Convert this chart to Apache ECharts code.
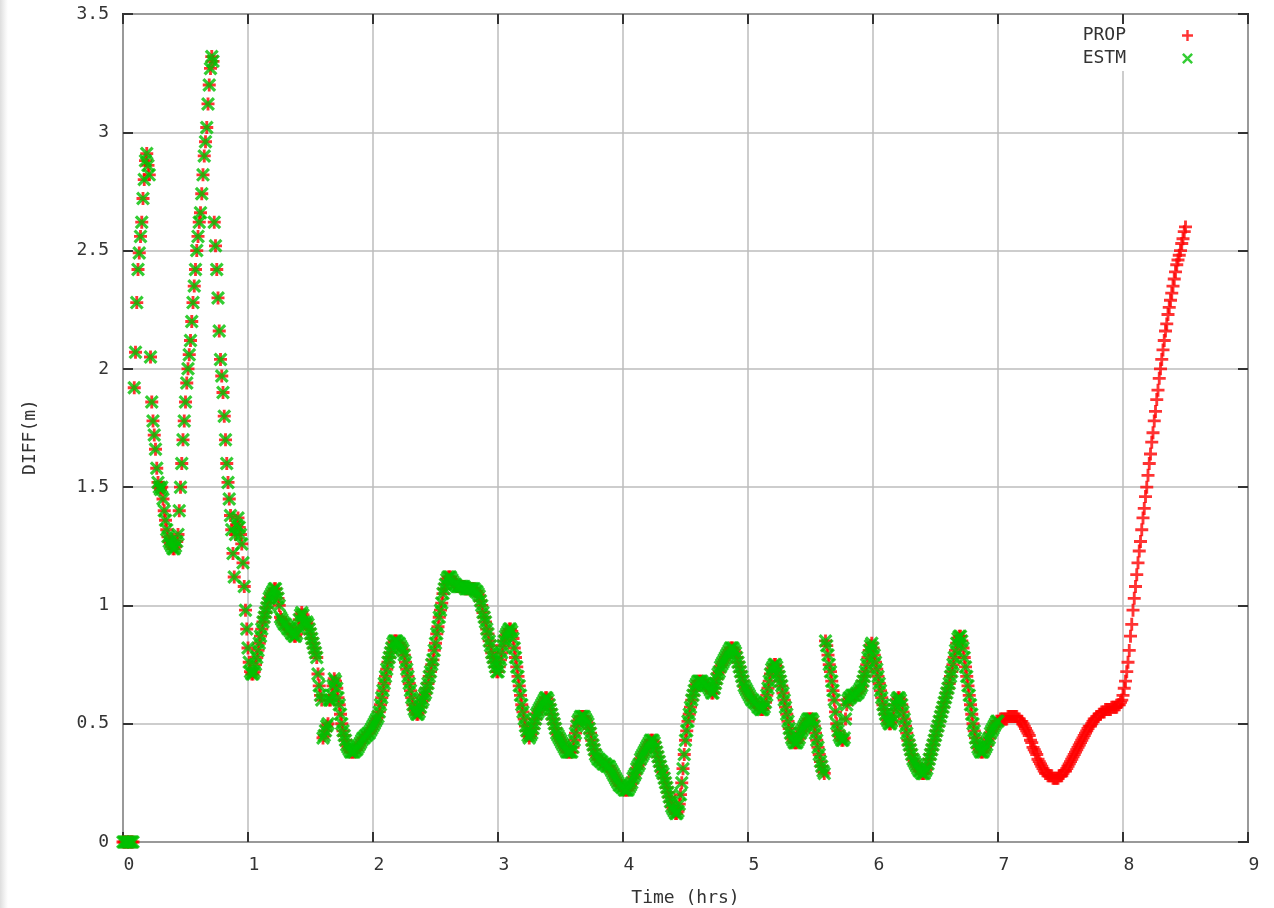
<!DOCTYPE html>
<html>
<head>
<meta charset="utf-8">
<title>DIFF vs Time</title>
<script src="https://cdn.jsdelivr.net/npm/echarts@6/dist/echarts.min.js"></script>
<style>
  html, body { margin: 0; padding: 0; }
  body { background: linear-gradient(to right, #dedede 0px, #f4f4f4 5px, #ffffff 8px); }
  #chart { width: 1274px; height: 908px; }
</style>
</head>
<body>
<div id="chart"></div>
<script>
const DT = 0.01;
const xTicks = [0, 1, 2, 3, 4, 5, 6, 7, 8, 9];
const yTicks = [0, 0.5, 1, 1.5, 2, 2.5, 3, 3.5];
const seriesNames = ['PROP', 'ESTM'];

// PROP, 0.00 h .. 3.49 h
const propA = [
  0, 0, 0, 0, 0, 0, 0, 0, 0, 1.92,
  2.07, 2.28, 2.42, 2.49, 2.56, 2.62, 2.72, 2.80, 2.88, 2.91,
  2.86, 2.82, 2.05, 1.86, 1.78, 1.72, 1.66, 1.58, 1.52, 1.50,
  1.49, 1.50, 1.45, 1.40, 1.36, 1.32, 1.29, 1.27, 1.26, 1.25,
  1.24, 1.24, 1.25, 1.27, 1.30, 1.40, 1.50, 1.60, 1.70, 1.78,
  1.86, 1.94, 2.00, 2.06, 2.12, 2.20, 2.28, 2.35, 2.42, 2.50,
  2.56, 2.62, 2.66, 2.74, 2.82, 2.90, 2.96, 3.02, 3.12, 3.20,
  3.27, 3.32, 3.30, 2.62, 2.52, 2.42, 2.30, 2.16, 2.04, 1.97,
  1.90, 1.80, 1.70, 1.60, 1.52, 1.45, 1.38, 1.32, 1.22, 1.12,
  1.30, 1.34, 1.37, 1.33, 1.30, 1.26, 1.18, 1.08, 0.98, 0.90,
  0.82, 0.76, 0.72, 0.71, 0.71, 0.72, 0.75, 0.78, 0.81, 0.84,
  0.87, 0.90, 0.93, 0.95, 0.97, 0.99, 1.01, 1.03, 1.04, 1.05,
  1.06, 1.07, 1.07, 1.05, 1.03, 1.00, 0.95, 0.94, 0.93, 0.92,
  0.92, 0.91, 0.90, 0.90, 0.89, 0.88, 0.88, 0.87, 0.87, 0.88,
  0.91, 0.94, 0.96, 0.97, 0.96, 0.93, 0.92, 0.93, 0.92, 0.90,
  0.88, 0.86, 0.84, 0.82, 0.80, 0.78, 0.71, 0.66, 0.62, 0.60,
  0.44, 0.45, 0.47, 0.49, 0.50, 0.60, 0.60, 0.62, 0.66, 0.69,
  0.68, 0.65, 0.61, 0.58, 0.54, 0.50, 0.47, 0.45, 0.43, 0.41,
  0.40, 0.39, 0.38, 0.38, 0.38, 0.38, 0.39, 0.39, 0.40, 0.41,
  0.42, 0.43, 0.44, 0.44, 0.45, 0.45, 0.46, 0.46, 0.47, 0.48,
  0.49, 0.50, 0.51, 0.52, 0.53, 0.55, 0.58, 0.61, 0.64, 0.67,
  0.70, 0.73, 0.76, 0.78, 0.80, 0.82, 0.84, 0.85, 0.85, 0.85,
  0.84, 0.84, 0.83, 0.82, 0.81, 0.79, 0.76, 0.73, 0.70, 0.67,
  0.64, 0.61, 0.58, 0.56, 0.55, 0.54, 0.54, 0.55, 0.57, 0.59,
  0.60, 0.62, 0.63, 0.65, 0.67, 0.70, 0.72, 0.75, 0.77, 0.81,
  0.84, 0.88, 0.91, 0.95, 0.98, 1.01, 1.05, 1.07, 1.09, 1.11,
  1.12, 1.12, 1.12, 1.11, 1.10, 1.09, 1.09, 1.08, 1.08, 1.08,
  1.08, 1.08, 1.08, 1.08, 1.07, 1.07, 1.07, 1.07, 1.07, 1.07,
  1.07, 1.07, 1.06, 1.06, 1.05, 1.04, 1.02, 1.00, 0.97, 0.95,
  0.93, 0.90, 0.88, 0.85, 0.83, 0.80, 0.78, 0.76, 0.74, 0.72,
  0.72, 0.74, 0.77, 0.80, 0.83, 0.85, 0.87, 0.88, 0.89, 0.90,
  0.90, 0.89, 0.86, 0.82, 0.78, 0.74, 0.70, 0.66, 0.62, 0.58,
  0.55, 0.52, 0.49, 0.47, 0.45, 0.44, 0.45, 0.46, 0.48, 0.50,
  0.52, 0.54, 0.55, 0.56, 0.57, 0.58, 0.59, 0.60, 0.61, 0.61,
  0.60, 0.58, 0.56, 0.54, 0.52, 0.50, 0.48, 0.46, 0.45, 0.44
];

// PROP, 3.50 h .. 7.00 h
const propB = [
  0.43, 0.42, 0.41, 0.40, 0.39, 0.38, 0.38, 0.38, 0.38, 0.38,
  0.40, 0.43, 0.46, 0.49, 0.51, 0.52, 0.53, 0.53, 0.53, 0.53,
  0.52, 0.51, 0.50, 0.48, 0.46, 0.43, 0.41, 0.39, 0.37, 0.36,
  0.35, 0.35, 0.34, 0.34, 0.33, 0.33, 0.33, 0.32, 0.32, 0.32,
  0.31, 0.30, 0.29, 0.28, 0.27, 0.26, 0.25, 0.24, 0.24, 0.23,
  0.23, 0.22, 0.22, 0.22, 0.22, 0.23, 0.24, 0.25, 0.27, 0.28,
  0.29, 0.31, 0.32, 0.33, 0.35, 0.36, 0.37, 0.38, 0.39, 0.40,
  0.41, 0.42, 0.43, 0.43, 0.43, 0.42, 0.40, 0.38, 0.36, 0.34,
  0.32, 0.30, 0.29, 0.27, 0.25, 0.23, 0.21, 0.19, 0.17, 0.15,
  0.14, 0.13, 0.12, 0.12, 0.13, 0.16, 0.20, 0.25, 0.31, 0.37,
  0.43, 0.47, 0.51, 0.54, 0.57, 0.60, 0.62, 0.64, 0.66, 0.67,
  0.68, 0.68, 0.68, 0.68, 0.67, 0.67, 0.67, 0.66, 0.66, 0.65,
  0.64, 0.63, 0.63, 0.65, 0.67, 0.69, 0.71, 0.72, 0.74, 0.75,
  0.76, 0.77, 0.78, 0.79, 0.80, 0.81, 0.82, 0.82, 0.82, 0.81,
  0.80, 0.78, 0.76, 0.74, 0.72, 0.70, 0.68, 0.66, 0.65, 0.64,
  0.63, 0.62, 0.61, 0.60, 0.60, 0.59, 0.59, 0.58, 0.57, 0.57,
  0.56, 0.56, 0.56, 0.57, 0.59, 0.62, 0.65, 0.68, 0.71, 0.73,
  0.74, 0.75, 0.75, 0.74, 0.72, 0.70, 0.68, 0.66, 0.63, 0.60,
  0.57, 0.54, 0.51, 0.48, 0.46, 0.44, 0.43, 0.42, 0.42, 0.42,
  0.43, 0.44, 0.46, 0.47, 0.48, 0.49, 0.50, 0.51, 0.52, 0.52,
  0.52, 0.52, 0.51, 0.49, 0.46, 0.43, 0.40, 0.37, 0.34, 0.32,
  0.30, 0.29, 0.85, 0.83, 0.79, 0.75, 0.72, 0.68, 0.64, 0.60,
  0.55, 0.50, 0.47, 0.45, 0.44, 0.43, 0.43, 0.44, 0.52, 0.58,
  0.60, 0.61, 0.61, 0.62, 0.62, 0.62, 0.62, 0.63, 0.63, 0.64,
  0.65, 0.66, 0.68, 0.70, 0.72, 0.75, 0.78, 0.81, 0.83, 0.84,
  0.82, 0.79, 0.76, 0.73, 0.70, 0.67, 0.64, 0.61, 0.58, 0.56,
  0.54, 0.52, 0.51, 0.50, 0.50, 0.51, 0.53, 0.56, 0.58, 0.60,
  0.61, 0.61, 0.60, 0.58, 0.55, 0.52, 0.49, 0.46, 0.43, 0.41,
  0.39, 0.37, 0.35, 0.34, 0.33, 0.32, 0.31, 0.30, 0.30, 0.29,
  0.29, 0.29, 0.30, 0.31, 0.33, 0.35, 0.37, 0.39, 0.41, 0.43,
  0.45, 0.47, 0.49, 0.51, 0.53, 0.55, 0.57, 0.59, 0.61, 0.63,
  0.65, 0.67, 0.70, 0.72, 0.75, 0.78, 0.81, 0.84, 0.86, 0.87,
  0.87, 0.85, 0.82, 0.78, 0.74, 0.70, 0.66, 0.62, 0.58, 0.54,
  0.50, 0.47, 0.44, 0.42, 0.40, 0.39, 0.38, 0.38, 0.38, 0.39,
  0.40, 0.41, 0.43, 0.44, 0.46, 0.47, 0.48, 0.49, 0.50, 0.51,
  0.51
];

// PROP only (propagated beyond the estimate), 7.01 h .. 8.50 h
const propC = [
        0.51, 0.52, 0.52, 0.52, 0.52, 0.52, 0.52, 0.53, 0.53,
  0.53, 0.53, 0.53, 0.53, 0.53, 0.53, 0.52, 0.52, 0.51, 0.51,
  0.50, 0.49, 0.48, 0.47, 0.46, 0.45, 0.43, 0.42, 0.40, 0.39,
  0.38, 0.37, 0.35, 0.34, 0.33, 0.32, 0.31, 0.30, 0.29, 0.29,
  0.28, 0.28, 0.28, 0.28, 0.27, 0.27, 0.27, 0.27, 0.27, 0.28,
  0.28, 0.28, 0.29, 0.30, 0.30, 0.31, 0.32, 0.33, 0.34, 0.35,
  0.36, 0.37, 0.38, 0.39, 0.40, 0.41, 0.42, 0.43, 0.44, 0.45,
  0.46, 0.47, 0.48, 0.49, 0.49, 0.50, 0.51, 0.52, 0.52, 0.53,
  0.53, 0.54, 0.54, 0.55, 0.55, 0.55, 0.56, 0.56, 0.56, 0.56,
  0.56, 0.57, 0.57, 0.57, 0.57, 0.57, 0.58, 0.58, 0.59, 0.60,
  0.62, 0.65, 0.68, 0.72, 0.76, 0.81, 0.87, 0.92, 0.98, 1.03,
  1.08, 1.13, 1.18, 1.23, 1.27, 1.32, 1.37, 1.41, 1.46, 1.50,
  1.55, 1.60, 1.64, 1.69, 1.73, 1.78, 1.82, 1.87, 1.91, 1.96,
  2.00, 2.04, 2.08, 2.12, 2.16, 2.19, 2.23, 2.26, 2.29, 2.32,
  2.35, 2.38, 2.41, 2.44, 2.46, 2.48, 2.50, 2.53, 2.55, 2.58,
  2.60
];

// ESTM coincides with PROP over 0..7 h in the reference
const propValues = propA.concat(propB, propC);
const estmValues = propA.concat(propB);

function toPairs(vals) {
  return vals.map((v, i) => [+(i * DT).toFixed(2), v]);
}

const PLUS = 'path://M0,3.9H10V6.1H0Z M3.9,0H6.1V10H3.9Z';
const CROSS = 'path://M0,1.6L1.6,0L10,8.4L8.4,10Z M8.4,0L10,1.6L1.6,10L0,8.4Z';

const FONT = 'DejaVu Sans Mono';
const TXT = '#333333';
function tickStyle() { return { inside: true, length: 10, lineStyle: { color: '#333333', width: 2 } }; }
const splitStyle = { show: true, lineStyle: { color: '#bcbcbc', width: 1.5 } };

const chart = echarts.init(document.getElementById('chart'), null, { renderer: 'canvas' });
chart.setOption({
  animation: false,
  backgroundColor: 'transparent',
  grid: { left: 123, right: 26, top: 14, bottom: 66, show: true, containLabel: false,
          outerBoundsMode: 'none',
          borderColor: '#333333', borderWidth: 2, backgroundColor: 'transparent' },
  legend: {
    orient: 'vertical', right: 77, top: 24, align: 'right',
    itemWidth: 11, itemHeight: 11, itemGap: 4, padding: [2, 4, 3, 9],
    backgroundColor: '#ffffff', selectedMode: false,
    textStyle: { fontFamily: FONT, fontSize: 18, color: TXT, lineHeight: 19, padding: [0, 51, 0, 0] },
    data: [{ name: seriesNames[0], icon: PLUS }, { name: seriesNames[1], icon: CROSS }]
  },
  xAxis: [
    { type: 'value', position: 'bottom', min: xTicks[0], max: xTicks[xTicks.length - 1], interval: 1,
      name: 'Time (hrs)', nameLocation: 'middle', nameGap: 47,
      nameTextStyle: { fontFamily: FONT, fontSize: 18, color: TXT },
      axisLine: { show: false, onZero: false }, axisTick: tickStyle(),
      axisLabel: { fontFamily: FONT, fontSize: 18, color: TXT, margin: 14, padding: [0, 0, 0, 12] },
      splitLine: splitStyle },
    { type: 'value', position: 'top', min: xTicks[0], max: xTicks[xTicks.length - 1], interval: 1,
      axisLine: { show: false, onZero: false }, axisTick: tickStyle(), axisLabel: { show: false }, splitLine: { show: false } }
  ],
  yAxis: [
    { type: 'value', position: 'left', min: yTicks[0], max: yTicks[yTicks.length - 1], interval: 0.5,
      name: 'DIFF(m)', nameLocation: 'middle', nameGap: 84,
      nameTextStyle: { fontFamily: FONT, fontSize: 18, color: TXT, padding: [0, 18, 0, 0] },
      axisLine: { show: false, onZero: false }, axisTick: tickStyle(),
      axisLabel: { fontFamily: FONT, fontSize: 18, color: TXT, margin: 14 },
      splitLine: splitStyle },
    { type: 'value', position: 'right', min: yTicks[0], max: yTicks[yTicks.length - 1], interval: 0.5,
      axisLine: { show: false, onZero: false }, axisTick: tickStyle(), axisLabel: { show: false }, splitLine: { show: false } }
  ],
  series: [
    { name: seriesNames[0], type: 'scatter', data: toPairs(propValues), symbol: PLUS, symbolSize: 13,
      itemStyle: { color: '#ff0000' }, clip: false, silent: true, xAxisIndex: 0, yAxisIndex: 0 },
    { name: seriesNames[1], type: 'scatter', data: toPairs(estmValues), symbol: CROSS, symbolSize: 14,
      itemStyle: { color: '#00c000' }, clip: false, silent: true, xAxisIndex: 0, yAxisIndex: 0 }
  ]
});
</script>
</body>
</html>
